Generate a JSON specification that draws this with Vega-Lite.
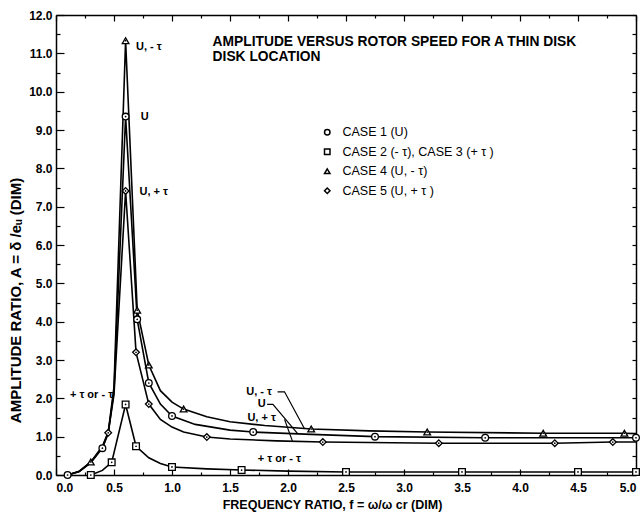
{
  "$schema": "https://vega.github.io/schema/vega-lite/v6.json",
  "autosize": {"type": "none"},
  "width": 580,
  "height": 460,
  "padding": {"left": 56, "top": 15, "right": 7, "bottom": 42},
  "background": "white",
  "config": {
    "view": {"stroke": null},
    "font": "Liberation Sans",
    "axis": {
      "domainColor": "black", "domainWidth": 1.5, "tickColor": "black", "tickWidth": 1.2,
      "labelFont": "Liberation Sans", "labelFontSize": 12, "labelFontWeight": "bold", "labelColor": "black",
      "titleFont": "Liberation Sans", "titleFontSize": 12.5, "titleFontWeight": "bold", "titleColor": "black",
      "grid": false, "labelOverlap": false
    }
  },
  "datasets": {
    "curves": [
      {"case": "CASE 4 (U, - τ)", "f": 0.1, "A": 0}, {"case": "CASE 4 (U, - τ)", "f": 0.2, "A": 0.1}, {"case": "CASE 4 (U, - τ)", "f": 0.3, "A": 0.34}, {"case": "CASE 4 (U, - τ)", "f": 0.4, "A": 0.75}, {"case": "CASE 4 (U, - τ)", "f": 0.45, "A": 1.12}, {"case": "CASE 4 (U, - τ)", "f": 0.5, "A": 2.3}, {"case": "CASE 4 (U, - τ)", "f": 0.6, "A": 11.33}, {"case": "CASE 4 (U, - τ)", "f": 0.7, "A": 4.3}, {"case": "CASE 4 (U, - τ)", "f": 0.8, "A": 2.87}, {"case": "CASE 4 (U, - τ)", "f": 0.9, "A": 2.2}, {"case": "CASE 4 (U, - τ)", "f": 1.0, "A": 1.9}, {"case": "CASE 4 (U, - τ)", "f": 1.1, "A": 1.72}, {"case": "CASE 4 (U, - τ)", "f": 1.3, "A": 1.52}, {"case": "CASE 4 (U, - τ)", "f": 1.5, "A": 1.39}, {"case": "CASE 4 (U, - τ)", "f": 1.8, "A": 1.29}, {"case": "CASE 4 (U, - τ)", "f": 2.2, "A": 1.2}, {"case": "CASE 4 (U, - τ)", "f": 2.7, "A": 1.15}, {"case": "CASE 4 (U, - τ)", "f": 3.2, "A": 1.12}, {"case": "CASE 4 (U, - τ)", "f": 4.2, "A": 1.09}, {"case": "CASE 4 (U, - τ)", "f": 4.9, "A": 1.09}, {"case": "CASE 4 (U, - τ)", "f": 5.0, "A": 1.08},
      {"case": "CASE 1 (U)", "f": 0.1, "A": 0}, {"case": "CASE 1 (U)", "f": 0.2, "A": 0.09}, {"case": "CASE 1 (U)", "f": 0.3, "A": 0.32}, {"case": "CASE 1 (U)", "f": 0.4, "A": 0.7}, {"case": "CASE 1 (U)", "f": 0.45, "A": 1.08}, {"case": "CASE 1 (U)", "f": 0.5, "A": 2.2}, {"case": "CASE 1 (U)", "f": 0.6, "A": 9.35}, {"case": "CASE 1 (U)", "f": 0.7, "A": 4.06}, {"case": "CASE 1 (U)", "f": 0.8, "A": 2.4}, {"case": "CASE 1 (U)", "f": 0.9, "A": 1.85}, {"case": "CASE 1 (U)", "f": 1.0, "A": 1.54}, {"case": "CASE 1 (U)", "f": 1.2, "A": 1.32}, {"case": "CASE 1 (U)", "f": 1.5, "A": 1.17}, {"case": "CASE 1 (U)", "f": 1.7, "A": 1.12}, {"case": "CASE 1 (U)", "f": 2.2, "A": 1.06}, {"case": "CASE 1 (U)", "f": 2.75, "A": 1.0}, {"case": "CASE 1 (U)", "f": 3.7, "A": 0.97}, {"case": "CASE 1 (U)", "f": 5.0, "A": 0.97},
      {"case": "CASE 5 (U, + τ )", "f": 0.1, "A": 0}, {"case": "CASE 5 (U, + τ )", "f": 0.2, "A": 0.09}, {"case": "CASE 5 (U, + τ )", "f": 0.3, "A": 0.33}, {"case": "CASE 5 (U, + τ )", "f": 0.4, "A": 0.72}, {"case": "CASE 5 (U, + τ )", "f": 0.45, "A": 1.1}, {"case": "CASE 5 (U, + τ )", "f": 0.5, "A": 2.1}, {"case": "CASE 5 (U, + τ )", "f": 0.6, "A": 7.41}, {"case": "CASE 5 (U, + τ )", "f": 0.69, "A": 3.2}, {"case": "CASE 5 (U, + τ )", "f": 0.8, "A": 1.85}, {"case": "CASE 5 (U, + τ )", "f": 0.9, "A": 1.45}, {"case": "CASE 5 (U, + τ )", "f": 1.0, "A": 1.25}, {"case": "CASE 5 (U, + τ )", "f": 1.1, "A": 1.12}, {"case": "CASE 5 (U, + τ )", "f": 1.3, "A": 0.99}, {"case": "CASE 5 (U, + τ )", "f": 1.5, "A": 0.94}, {"case": "CASE 5 (U, + τ )", "f": 1.9, "A": 0.89}, {"case": "CASE 5 (U, + τ )", "f": 2.3, "A": 0.86}, {"case": "CASE 5 (U, + τ )", "f": 3.3, "A": 0.83}, {"case": "CASE 5 (U, + τ )", "f": 4.3, "A": 0.83}, {"case": "CASE 5 (U, + τ )", "f": 4.8, "A": 0.86}, {"case": "CASE 5 (U, + τ )", "f": 5.0, "A": 0.86},
      {"case": "CASE 2 (- τ), CASE 3 (+ τ )", "f": 0.3, "A": 0.0}, {"case": "CASE 2 (- τ), CASE 3 (+ τ )", "f": 0.4, "A": 0.12}, {"case": "CASE 2 (- τ), CASE 3 (+ τ )", "f": 0.48, "A": 0.33}, {"case": "CASE 2 (- τ), CASE 3 (+ τ )", "f": 0.6, "A": 1.84}, {"case": "CASE 2 (- τ), CASE 3 (+ τ )", "f": 0.69, "A": 0.75}, {"case": "CASE 2 (- τ), CASE 3 (+ τ )", "f": 0.8, "A": 0.45}, {"case": "CASE 2 (- τ), CASE 3 (+ τ )", "f": 0.9, "A": 0.3}, {"case": "CASE 2 (- τ), CASE 3 (+ τ )", "f": 1.0, "A": 0.21}, {"case": "CASE 2 (- τ), CASE 3 (+ τ )", "f": 1.3, "A": 0.16}, {"case": "CASE 2 (- τ), CASE 3 (+ τ )", "f": 1.6, "A": 0.13}, {"case": "CASE 2 (- τ), CASE 3 (+ τ )", "f": 2.0, "A": 0.1}, {"case": "CASE 2 (- τ), CASE 3 (+ τ )", "f": 2.5, "A": 0.08}, {"case": "CASE 2 (- τ), CASE 3 (+ τ )", "f": 3.5, "A": 0.08}, {"case": "CASE 2 (- τ), CASE 3 (+ τ )", "f": 4.5, "A": 0.08}, {"case": "CASE 2 (- τ), CASE 3 (+ τ )", "f": 5.0, "A": 0.08}
    ],
    "markers": [
      {"case": "CASE 1 (U)", "f": 0.1, "A": 0}, {"case": "CASE 1 (U)", "f": 0.4, "A": 0.7}, {"case": "CASE 1 (U)", "f": 0.6, "A": 9.35}, {"case": "CASE 1 (U)", "f": 0.7, "A": 4.06}, {"case": "CASE 1 (U)", "f": 0.8, "A": 2.4}, {"case": "CASE 1 (U)", "f": 1.0, "A": 1.54}, {"case": "CASE 1 (U)", "f": 1.7, "A": 1.12}, {"case": "CASE 1 (U)", "f": 2.75, "A": 1.0}, {"case": "CASE 1 (U)", "f": 3.7, "A": 0.97}, {"case": "CASE 1 (U)", "f": 5.0, "A": 0.97},
      {"case": "CASE 2 (- τ), CASE 3 (+ τ )", "f": 0.3, "A": 0}, {"case": "CASE 2 (- τ), CASE 3 (+ τ )", "f": 0.48, "A": 0.33}, {"case": "CASE 2 (- τ), CASE 3 (+ τ )", "f": 0.6, "A": 1.84}, {"case": "CASE 2 (- τ), CASE 3 (+ τ )", "f": 0.69, "A": 0.75}, {"case": "CASE 2 (- τ), CASE 3 (+ τ )", "f": 1.0, "A": 0.21}, {"case": "CASE 2 (- τ), CASE 3 (+ τ )", "f": 1.6, "A": 0.13}, {"case": "CASE 2 (- τ), CASE 3 (+ τ )", "f": 2.5, "A": 0.08}, {"case": "CASE 2 (- τ), CASE 3 (+ τ )", "f": 3.5, "A": 0.08}, {"case": "CASE 2 (- τ), CASE 3 (+ τ )", "f": 4.5, "A": 0.08}, {"case": "CASE 2 (- τ), CASE 3 (+ τ )", "f": 5.0, "A": 0.08},
      {"case": "CASE 4 (U, - τ)", "f": 0.3, "A": 0.34}, {"case": "CASE 4 (U, - τ)", "f": 0.6, "A": 11.33}, {"case": "CASE 4 (U, - τ)", "f": 0.7, "A": 4.3}, {"case": "CASE 4 (U, - τ)", "f": 0.8, "A": 2.87}, {"case": "CASE 4 (U, - τ)", "f": 1.1, "A": 1.72}, {"case": "CASE 4 (U, - τ)", "f": 2.2, "A": 1.2}, {"case": "CASE 4 (U, - τ)", "f": 3.2, "A": 1.12}, {"case": "CASE 4 (U, - τ)", "f": 4.2, "A": 1.09}, {"case": "CASE 4 (U, - τ)", "f": 4.9, "A": 1.09},
      {"case": "CASE 5 (U, + τ )", "f": 0.45, "A": 1.1}, {"case": "CASE 5 (U, + τ )", "f": 0.6, "A": 7.41}, {"case": "CASE 5 (U, + τ )", "f": 0.69, "A": 3.2}, {"case": "CASE 5 (U, + τ )", "f": 0.8, "A": 1.85}, {"case": "CASE 5 (U, + τ )", "f": 1.3, "A": 0.99}, {"case": "CASE 5 (U, + τ )", "f": 2.3, "A": 0.86}, {"case": "CASE 5 (U, + τ )", "f": 3.3, "A": 0.83}, {"case": "CASE 5 (U, + τ )", "f": 4.3, "A": 0.83}, {"case": "CASE 5 (U, + τ )", "f": 4.8, "A": 0.86}
    ],
    "notes": [
      {"f": 0.69, "A": 11.17, "text": "U, - τ"},
      {"f": 0.73, "A": 9.34, "text": "U"},
      {"f": 0.72, "A": 7.39, "text": "U, + τ"},
      {"f": 0.12, "A": 2.09, "text": "+ τ or - τ"},
      {"f": 1.64, "A": 2.17, "text": "U, - τ"},
      {"f": 1.74, "A": 1.84, "text": "U"},
      {"f": 1.65, "A": 1.49, "text": "U, + τ"},
      {"f": 1.74, "A": 0.42, "text": "+ τ or - τ"}
    ],
    "heading": [
      {"f": 1.35, "A": 11.3, "text": "AMPLITUDE VERSUS ROTOR SPEED FOR A THIN DISK"},
      {"f": 1.35, "A": 10.9, "text": "DISK LOCATION"}
    ],
    "leaders": [
      {"id": "a", "f": 1.91, "A": 2.17}, {"id": "a", "f": 1.97, "A": 2.17}, {"id": "a", "f": 2.14, "A": 1.22},
      {"id": "b", "f": 1.82, "A": 1.84}, {"id": "b", "f": 1.87, "A": 1.84}, {"id": "b", "f": 2.085, "A": 1.07},
      {"id": "c", "f": 1.97, "A": 1.45}, {"id": "c", "f": 2.04, "A": 0.87}
    ]
  },
  "resolve": {"axis": {"x": "independent", "y": "independent"}},
  "layer": [
    {
      "data": {"name": "curves"},
      "mark": {"type": "line", "color": "black", "strokeWidth": 1.6},
      "encoding": {
        "x": {"field": "f", "type": "quantitative", "scale": {"domain": [0, 5], "nice": false},
          "axis": {"orient": "bottom", "values": [0,0.25,0.5,0.75,1,1.25,1.5,1.75,2,2.25,2.5,2.75,3,3.25,3.5,3.75,4,4.25,4.5,4.75,5],
            "labelExpr": "datum.value % 0.5 == 0 ? format(datum.value, '.1f') : ''",
            "tickSize": {"condition": {"test": "datum.value % 0.5 == 0", "value": -6}, "value": -3},
            "labelPadding": 13,
            "title": "FREQUENCY RATIO, f =  ω/ω cr (DIM)", "titleX": 276, "titlePadding": 2}},
        "y": {"field": "A", "type": "quantitative", "scale": {"domain": [0, 12], "nice": false},
          "axis": {"orient": "left", "values": [0,0.5,1,1.5,2,2.5,3,3.5,4,4.5,5,5.5,6,6.5,7,7.5,8,8.5,9,9.5,10,10.5,11,11.5,12],
            "labelExpr": "datum.value % 1 == 0 ? format(datum.value, '.1f') : ''",
            "tickSize": {"condition": {"test": "datum.value % 1 == 0", "value": -8}, "value": -4},
            "labelPadding": 12,
            "title": "AMPLITUDE RATIO,  A  =  δ  /eᵤ  (DIM)", "titleFontSize": 15, "titleY": 285, "titleX": -33}},
        "detail": {"field": "case"}
      }
    },
    {
      "data": {"name": "markers"},
      "mark": {"type": "point", "filled": true, "fill": "white", "stroke": "black", "strokeWidth": 1.3, "size": 45, "opacity": 1},
      "encoding": {
        "x": {"field": "f", "type": "quantitative",
          "axis": {"orient": "top", "values": [0,0.25,0.5,0.75,1,1.25,1.5,1.75,2,2.25,2.5,2.75,3,3.25,3.5,3.75,4,4.25,4.5,4.75,5],
            "labels": false, "title": null,
            "tickSize": {"condition": {"test": "datum.value % 0.5 == 0", "value": -6}, "value": -3}}},
        "y": {"field": "A", "type": "quantitative",
          "axis": {"orient": "right", "values": [0,0.5,1,1.5,2,2.5,3,3.5,4,4.5,5,5.5,6,6.5,7,7.5,8,8.5,9,9.5,10,10.5,11,11.5,12],
            "labels": false, "title": null, "tickSize": -4}},
        "shape": {"field": "case", "type": "nominal",
          "scale": {"domain": ["CASE 1 (U)", "CASE 2 (- τ), CASE 3 (+ τ )", "CASE 4 (U, - τ)", "CASE 5 (U, + τ )"], "range": ["circle", "square", "triangle-up", "diamond"]},
          "legend": {"title": null, "orient": "none", "legendX": 265, "legendY": 111, "padding": 0,
            "labelFont": "Liberation Sans", "labelFontSize": 12.5, "labelColor": "black", "labelOffset": 9,
            "symbolSize": 30, "rowPadding": 6.5,
            "encode": {"symbols": {"update": {"fill": {"value": "white"}, "stroke": {"value": "black"}, "strokeWidth": {"value": 1}, "opacity": {"value": 1}}}}}}
      }
    },
    {
      "data": {"name": "markers"},
      "mark": {"type": "circle", "color": "black", "size": 3, "opacity": 1},
      "encoding": {
        "x": {"field": "f", "type": "quantitative", "axis": null},
        "y": {"field": "A", "type": "quantitative", "axis": null}
      }
    },
    {
      "data": {"name": "leaders"},
      "mark": {"type": "line", "color": "black", "strokeWidth": 1.2},
      "encoding": {
        "x": {"field": "f", "type": "quantitative", "axis": null},
        "y": {"field": "A", "type": "quantitative", "axis": null},
        "detail": {"field": "id"}
      }
    },
    {
      "data": {"name": "notes"},
      "mark": {"type": "text", "align": "left", "baseline": "middle", "font": "Liberation Sans", "fontSize": 11, "fontWeight": "bold", "color": "black"},
      "encoding": {
        "x": {"field": "f", "type": "quantitative", "axis": null},
        "y": {"field": "A", "type": "quantitative", "axis": null},
        "text": {"field": "text"}
      }
    },
    {
      "data": {"name": "heading"},
      "mark": {"type": "text", "align": "left", "baseline": "middle", "font": "Liberation Sans", "fontSize": 13.8, "fontWeight": "bold", "color": "black"},
      "encoding": {
        "x": {"field": "f", "type": "quantitative", "axis": null},
        "y": {"field": "A", "type": "quantitative", "axis": null},
        "text": {"field": "text"}
      }
    }
  ]
}
